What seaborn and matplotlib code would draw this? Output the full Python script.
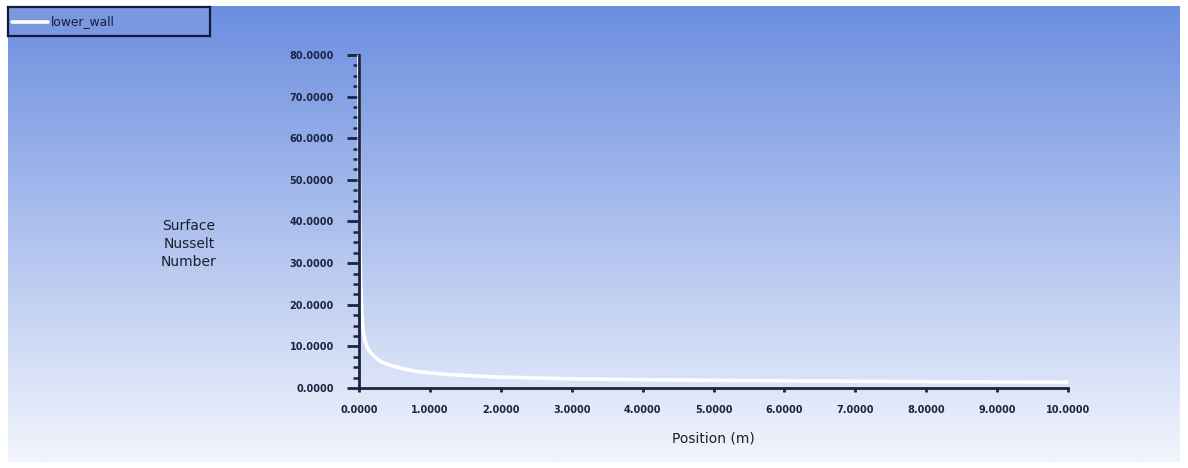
import numpy as np
import pandas as pd
import matplotlib
matplotlib.use("Agg")
import matplotlib.pyplot as plt
import seaborn as sns
from matplotlib.ticker import MultipleLocator, FormatStrFormatter
from matplotlib.lines import Line2D

# data
position = [0.0, 0.003, 0.008, 0.015, 0.025, 0.04, 0.06, 0.09, 0.13, 0.2, 0.3,
            0.45, 0.6, 0.8, 1.0, 1.5, 2.0, 3.0, 4.0, 5.0, 6.0, 7.0, 8.0, 9.0, 10.0]
nusselt = [80.0, 62.0, 46.0, 34.0, 25.0, 18.0, 13.5, 11.0, 9.3, 7.8, 6.4,
           5.4, 4.7, 4.0, 3.6, 3.0, 2.6, 2.2, 2.0, 1.85, 1.72, 1.62, 1.53, 1.46, 1.4]
series_name = "lower_wall"
x_ticks = [0, 1, 2, 3, 4, 5, 6, 7, 8, 9, 10]
y_ticks = [0, 10, 20, 30, 40, 50, 60, 70, 80]

df = pd.DataFrame({"Position (m)": position, "Nu": nusselt})

sns.set_theme(style="white")
plt.rcParams['font.family'] = ['DejaVu Sans']

W, H = 1188, 468
fig = plt.figure(figsize=(W / 100, H / 100), dpi=100)
fig.patch.set_facecolor("white")

# gradient background
bg = fig.add_axes([8 / W, 6 / H, (1180 - 8) / W, (462 - 6) / H])
bg.set_axis_off()
top = np.array([108, 142, 224]) / 255
bot = np.array([242, 245, 252]) / 255
t = np.linspace(0, 1, 256)[:, None]
grad = top[None, :] * (1 - t) + bot[None, :] * t
bg.imshow(grad[:, None, :], aspect="auto", extent=[0, 1, 0, 1], origin="upper")
bg.set_xlim(0, 1)
bg.set_ylim(0, 1)

axc = "#1b2440"
ax = fig.add_axes([359 / W, (H - 388) / H, (1068 - 359) / W, (388 - 55) / H])
ax.patch.set_alpha(0)
sns.lineplot(data=df, x="Position (m)", y="Nu", ax=ax, color="white",
             linewidth=2.6, clip_on=False, solid_capstyle="butt")
ax.set_xlim(0, 10)
ax.set_ylim(0, 80)
for s in ["top", "right"]:
    ax.spines[s].set_visible(False)
for s in ["left", "bottom"]:
    ax.spines[s].set_color(axc)
    ax.spines[s].set_linewidth(2.0)
ax.set_xticks(x_ticks)
ax.set_yticks(y_ticks)
ax.yaxis.set_minor_locator(MultipleLocator(2.5))
ax.xaxis.set_major_formatter(FormatStrFormatter("%.4f"))
ax.yaxis.set_major_formatter(FormatStrFormatter("%.4f"))
ax.tick_params(axis="y", which="major", direction="out", length=9, width=2,
               color=axc, labelsize=7, labelcolor=axc, pad=9, left=True)
ax.tick_params(axis="y", which="minor", direction="out", length=4, width=1.8,
               color=axc, left=True)
ax.tick_params(axis="x", which="major", direction="out", length=3, width=2,
               color=axc, labelsize=7, labelcolor=axc, pad=9, bottom=True)
for lab in ax.get_xticklabels() + ax.get_yticklabels():
    lab.set_fontweight("bold")
ax.set_xlabel("")
ax.set_ylabel("")

fig.text(713 / W, 1 - 439 / H, "Position (m)", ha="center", va="center",
         fontsize=10, color="#1a1f2e")
fig.text(189 / W, 1 - 244 / H, "Surface\nNusselt\nNumber", ha="center",
         va="center", multialignment="center", fontsize=10, color="#1a1f2e",
         linespacing=1.4)

# legend box
leg = fig.add_axes([8 / W, 1 - 36 / H, (210 - 8) / W, (36 - 7) / H])
leg.set_xlim(0, 1)
leg.set_ylim(0, 1)
leg.set_xticks([])
leg.set_yticks([])
leg.patch.set_facecolor("#7a97e2")
for s in leg.spines.values():
    s.set_color("#141a38")
    s.set_linewidth(1.6)
leg.add_line(Line2D([0.02, 0.2], [0.5, 0.5], color="white", linewidth=2.6))
leg.text(0.21, 0.5, series_name, ha="left", va="center", fontsize=8.8,
         color="#1a1f2e")

fig.savefig("out.png", dpi=100, facecolor="white")
